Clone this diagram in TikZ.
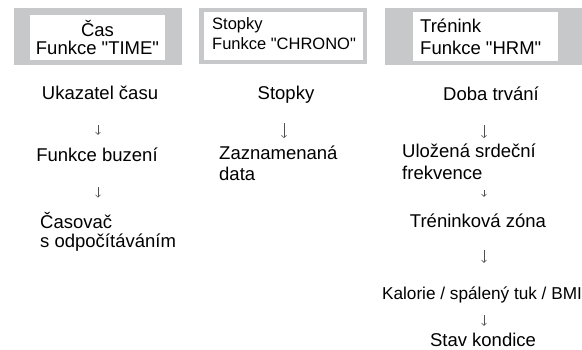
\documentclass[tikz,border=0pt]{standalone}
\usepackage{fontspec}
\setmainfont{Liberation Sans}[Ligatures=TeXOff]
\usepackage{tikz}
\usetikzlibrary{arrows.meta}

\definecolor{framegray}{RGB}{199,200,201}
\definecolor{tipgray}{RGB}{80,80,80}

\newcommand{\topstrut}{\rule{0pt}{17pt}}
\newcommand{\botstrut}{\rule[-4pt]{0pt}{4pt}}

\begin{document}
\begin{tikzpicture}[
    x=1pt, y=-1pt,
    frame/.style={fill=framegray},
    pane/.style={fill=white},
    head/.style={inner sep=0pt, font=\fontsize{18.5}{18.5}\selectfont},
    item/.style={inner sep=0pt, font=\fontsize{18.5}{21}\selectfont, execute at begin node=\topstrut, execute at end node=\botstrut},
    flow/.style 2 args={-{Straight Barb[length=2.4pt, width=5pt]}, tipgray, line width=0.6pt, shorten <=#1, shorten >=#2}
]
    \useasboundingbox (0,0) rectangle (582,350);

    % header frames
    \fill [frame] (14,8) rectangle (182,65);
    \fill [pane] (30,15) rectangle (165,60);
    \fill [frame] (199,8) rectangle (367,64);
    \fill [pane] (204,12) rectangle (363,60);
    \fill [frame] (385,8) rectangle (582,65);
    \fill [pane] (413,12) rectangle (558,61);

    % multi-line nodes sit on their last baseline
    \node [head, align=center, anchor=base] (time) at (97.5,55) {Čas\\Funkce "TIME"};
    \node [head, align=left, anchor=base west, font=\fontsize{16.5}{20}\selectfont] (chrono) at (212,50) {Stopky\\Funkce "CHRONO"};
    \node [head, align=left, anchor=base west, font=\fontsize{18.5}{22}\selectfont] (hrm) at (420,55) {Trénink\\Funkce "HRM"};

    % column positions of the arrows
    \coordinate (c1) at (98,0);
    \coordinate (c2) at (284,0);
    \coordinate (c3) at (484,0);

    % time
    \node [item, anchor=base] (pointer) at (100,100) {Ukazatel času};
    \node [item, anchor=base] (wake) at (97,162) {Funkce buzení};
    \node [item, align=left, anchor=base west, font=\fontsize{18.5}{20}\selectfont] (timer) at (40,248) {Časovač\\s odpočítáváním};

    % chrono
    \node [item, anchor=base] (watch) at (286,100) {Stopky};
    \node [item, align=left, anchor=base west] (stored) at (219,181) {Zaznamenaná\\data};

    % hrm
    \node [item, anchor=base] (length) at (491,100.5) {Doba trvání};
    \node [item, align=left, anchor=base west, font=\fontsize{18.5}{22}\selectfont] (pulse) at (402,180) {Uložená srdeční\\frekvence};
    \node [item, anchor=base] (zone) at (478,228) {Tréninková zóna};
    \node [item, anchor=base, font=\fontsize{17.2}{20}\selectfont] (kcal) at (482,300) {Kalorie / spálený tuk / BMI};
    \node [item, anchor=base] (fitness) at (483,347) {Stav kondice};

    \draw [flow={21pt}{10pt}] (pointer.south -| c1) -- (wake.north -| c1);
    \draw [flow={21pt}{14pt}] (wake.south -| c1) -- (timer.north -| c1);
    \draw [flow={19pt}{8pt}] (watch.south -| c2) -- (stored.north -| c2);
    \draw [flow={20.5pt}{6pt}] (length.south -| c3) -- (pulse.north -| c3);
    \draw [flow={6pt}{14pt}] (pulse.south -| c3) -- (zone.north -| c3);
    \draw [flow={18pt}{20pt}] (zone.south -| c3) -- (kcal.north -| c3);
    \draw [flow={11pt}{4pt}] (kcal.south -| c3) -- (fitness.north -| c3);
\end{tikzpicture}
\end{document}
